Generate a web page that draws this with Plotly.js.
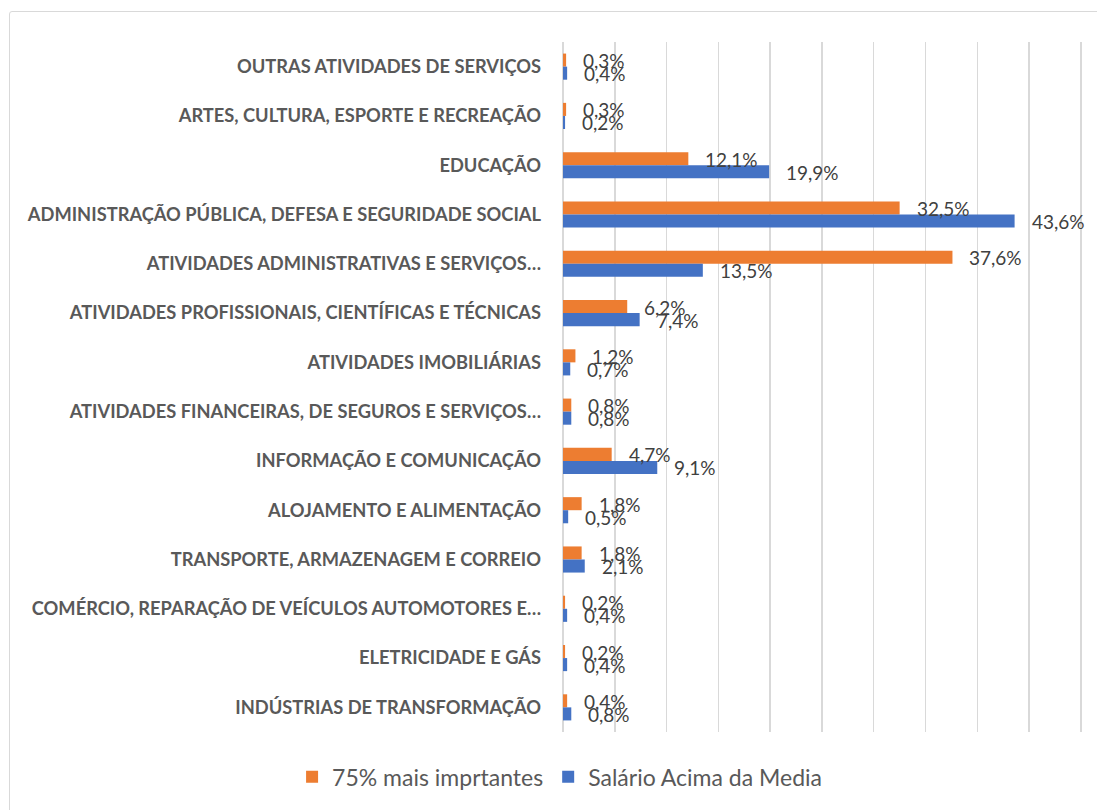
<!DOCTYPE html>
<html>
<head>
<meta charset="utf-8">
<script src="https://cdn.plot.ly/plotly-3.0.1.min.js"></script>
<style>
html,body{margin:0;padding:0;background:#fff;overflow:hidden;}
#chart{width:1097px;height:810px;}
#frame{position:absolute;left:9px;top:11px;width:1100px;height:810px;border:1.5px solid #d9d9d9;border-radius:3px;pointer-events:none;}
</style>
</head>
<body>
<div id="chart"></div>
<div id="frame"></div>
<script>
const categories = [
  "OUTRAS ATIVIDADES DE SERVIÇOS",
  "ARTES, CULTURA, ESPORTE E RECREAÇÃO",
  "EDUCAÇÃO",
  "ADMINISTRAÇÃO PÚBLICA, DEFESA E SEGURIDADE SOCIAL",
  "ATIVIDADES ADMINISTRATIVAS E SERVIÇOS…",
  "ATIVIDADES PROFISSIONAIS, CIENTÍFICAS E TÉCNICAS",
  "ATIVIDADES IMOBILIÁRIAS",
  "ATIVIDADES FINANCEIRAS, DE SEGUROS E SERVIÇOS…",
  "INFORMAÇÃO E COMUNICAÇÃO",
  "ALOJAMENTO E ALIMENTAÇÃO",
  "TRANSPORTE, ARMAZENAGEM E CORREIO",
  "COMÉRCIO, REPARAÇÃO DE VEÍCULOS AUTOMOTORES E…",
  "ELETRICIDADE E GÁS",
  "INDÚSTRIAS DE TRANSFORMAÇÃO"
];
const seriesNames = ["75% mais imprtantes", "Salário Acima da Media"];
const top75 = [0.3, 0.3, 12.1, 32.5, 37.6, 6.2, 1.2, 0.8, 4.7, 1.8, 1.8, 0.2, 0.2, 0.4];
const salario = [0.4, 0.2, 19.9, 43.6, 13.5, 7.4, 0.7, 0.8, 9.1, 0.5, 2.1, 0.4, 0.4, 0.8];

const fmt = v => v.toFixed(1).replace('.', ',') + '%';
const labelFont = {family: 'Lato, "Open Sans", sans-serif', size: 19, color: '#404040'};

const traces = [
  {type: 'bar', orientation: 'h', name: seriesNames[0], y: categories, x: top75,
   marker: {color: '#ED7D31'}, hoverinfo: 'none'},
  {type: 'bar', orientation: 'h', name: seriesNames[1], y: categories, x: salario,
   marker: {color: '#4472C4'}, hoverinfo: 'none'}
];

const annotations = [];
categories.forEach((c, i) => {
  annotations.push({x: top75[i], y: c, xref: 'x', yref: 'y', text: fmt(top75[i]),
    showarrow: false, xanchor: 'left', yanchor: 'middle', xshift: 15, yshift: 6,
    font: labelFont});
  annotations.push({x: salario[i], y: c, xref: 'x', yref: 'y', text: fmt(salario[i]),
    showarrow: false, xanchor: 'left', yanchor: 'middle', xshift: 15, yshift: -7,
    font: labelFont});
});

const layout = {
  width: 1097, height: 810,
  margin: {l: 563, r: 13, t: 42, b: 75, pad: 0},
  paper_bgcolor: '#fff', plot_bgcolor: '#fff',
  barmode: 'group', bargap: 0.47, bargroupgap: 0,
  showlegend: true,
  legend: {orientation: 'h', xref: 'paper', yref: 'paper',
    x: -0.52, xanchor: 'left', y: -0.065, yanchor: 'middle',
    font: {family: 'Lato, "Open Sans", sans-serif', size: 23, color: '#595959'},
    itemwidth: 30},
  xaxis: {range: [0, 50.3], dtick: 5, showticklabels: false, showgrid: true,
    gridcolor: '#d9d9d9', gridwidth: 1.5, zeroline: true, zerolinecolor: '#d9d9d9',
    zerolinewidth: 1.5, showline: false, fixedrange: true},
  yaxis: {type: 'category', autorange: 'reversed', showgrid: false, zeroline: false,
    showline: false, ticks: '', ticklabelstandoff: 21,
    tickfont: {family: 'Lato, "Open Sans", sans-serif', size: 18.3, color: '#595959', weight: 'bold'}},
  annotations: annotations
};

Plotly.newPlot('chart', traces, layout, {displayModeBar: false, staticPlot: true});
</script>
</body>
</html>
